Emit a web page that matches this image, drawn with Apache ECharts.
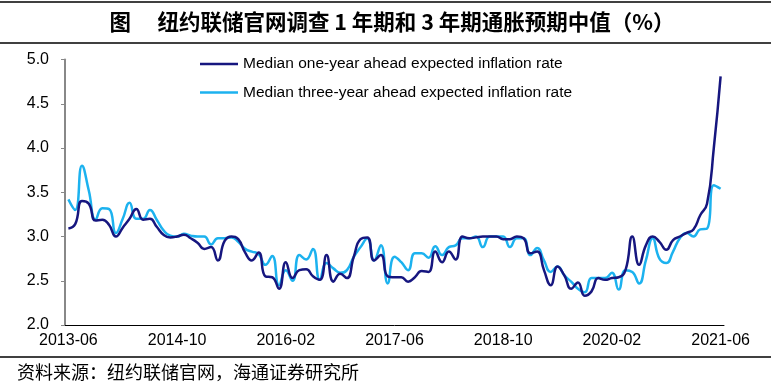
<!DOCTYPE html>
<html>
<head>
<meta charset="utf-8">
<script src="https://cdn.jsdelivr.net/npm/echarts@6/dist/echarts.min.js"></script>
<style>
html,body{margin:0;padding:0;background:#fff;}
#chart{width:771px;height:391px;}
</style>
</head>
<body>
<div id="chart"></div>
<script>
// Monthly categories 2013-06 .. 2021-06
var startYear = 2013, startMonth = 6, monthCount = 97;
var categories = [];
for (var k = 0; k < monthCount; k++) {
  var m = startMonth - 1 + k;
  var y = startYear + Math.floor(m / 12);
  var mm = (m % 12) + 1;
  categories.push(y + '-' + (mm < 10 ? '0' + mm : '' + mm));
}

var oneYear = [
  3.09,3.14,3.40,3.37,3.18,3.19,3.13,3.00,3.10,3.20,
  3.31,3.19,3.20,3.11,3.02,2.99,3.00,3.02,2.98,2.93,
  2.86,2.88,2.73,2.95,3.00,2.97,2.82,2.73,2.82,2.55,
  2.54,2.41,2.71,2.53,2.62,2.63,2.55,2.51,2.79,2.49,
  2.58,2.53,2.77,2.97,2.99,2.73,2.79,2.55,2.54,2.54,
  2.49,2.54,2.61,2.60,2.83,2.71,2.83,2.74,3.00,2.98,
  2.99,3.00,3.00,3.00,2.97,2.97,3.00,2.98,2.81,2.83,
  2.62,2.45,2.66,2.56,2.41,2.48,2.33,2.38,2.53,2.51,
  2.53,2.54,2.62,3.00,2.68,2.90,3.00,2.94,2.85,2.96,
  3.00,3.04,3.08,3.24,3.37,4.00,4.81
];

var threeYear = [
  3.42,3.30,3.80,3.52,3.19,3.32,3.31,3.04,3.20,3.38,
  3.20,3.20,3.30,3.19,3.07,3.01,3.00,3.03,3.01,3.00,
  3.00,2.91,2.98,2.98,2.99,2.94,2.86,2.83,2.80,2.68,
  2.78,2.45,2.62,2.50,2.79,2.74,2.86,2.51,2.70,2.64,
  2.59,2.62,2.77,2.88,2.98,2.73,2.90,2.47,2.77,2.71,
  2.62,2.81,2.81,2.76,2.89,2.79,2.88,2.90,2.98,2.98,
  3.00,2.88,3.00,3.00,3.00,2.88,2.98,2.98,2.79,2.87,
  2.73,2.60,2.66,2.56,2.49,2.41,2.37,2.53,2.53,2.53,
  2.59,2.40,2.62,2.60,2.47,2.73,2.98,2.75,2.70,2.83,
  2.98,3.04,3.00,3.08,3.09,3.58,3.54
];

var seriesNames = ['Median one-year ahead expected inflation rate', 'Median three-year ahead expected inflation rate'];
var titleText = '图\u3000 纽约联储官网调查 1 年期和 3 年期通胀预期中值（%）';
var sourceText = '资料来源：纽约联储官网，海通证券研究所';

var chart = echarts.init(document.getElementById('chart'), null, {renderer: 'canvas'});
var latin = '"Liberation Sans", Arial, sans-serif';
var cjk = '"Noto Sans CJK SC", sans-serif';

chart.setOption({
  animation: false,
  backgroundColor: '#ffffff',
  grid: {left: 65, right: 47, top: 59.5, bottom: 66, containLabel: false},
  legend: {
    orient: 'vertical', left: 200, top: 56, padding: 0,
    itemWidth: 38, itemHeight: 14, itemGap: 12.4,
    textStyle: {fontFamily: latin, fontSize: 15.5, color: '#000'},
    data: seriesNames.map(function (n) { return {name: n, icon: 'path://M0,0 L38,0 L38,2.5 L0,2.5 Z'}; })
  },
  xAxis: {
    type: 'category', data: categories, boundaryGap: true,
    axisLine: {lineStyle: {color: '#000', width: 1}},
    axisTick: {interval: 15, length: 5, lineStyle: {color: '#000'}},
    axisLabel: {interval: 15, margin: 8, fontFamily: latin, fontSize: 16, color: '#000'},
    splitLine: {show: false}
  },
  yAxis: {
    type: 'value', min: 2, max: 5, interval: 0.5,
    axisLine: {show: true, lineStyle: {color: '#888', width: 2}},
    axisTick: {show: true, length: 4, lineStyle: {color: '#888'}},
    axisLabel: {margin: 16, fontFamily: latin, fontSize: 16, color: '#000',
      formatter: function (v) { return v.toFixed(1); }},
    splitLine: {show: false}
  },
  series: [
    {name: seriesNames[0], type: 'line', data: oneYear, smooth: 0.5, symbol: 'none',
     lineStyle: {color: '#16167f', width: 2.5}, itemStyle: {color: '#16167f'}, z: 3},
    {name: seriesNames[1], type: 'line', data: threeYear, smooth: 0.5, symbol: 'none',
     lineStyle: {color: '#1cb2ef', width: 2.5}, itemStyle: {color: '#1cb2ef'}, z: 2}
  ],
  graphic: [
    {type: 'line', shape: {x1: 0, y1: 2, x2: 771, y2: 2}, style: {stroke: '#000', lineWidth: 1.5}},
    {type: 'line', shape: {x1: 0, y1: 43, x2: 771, y2: 43}, style: {stroke: '#000', lineWidth: 1.5}},
    {type: 'line', shape: {x1: 0, y1: 357, x2: 771, y2: 357}, style: {stroke: '#000', lineWidth: 1.5}},
    {type: 'text', x: 392, y: 22, style: {text: titleText, font: 'bold 21.5px ' + cjk, fill: '#000',
      textAlign: 'center', textVerticalAlign: 'middle'}},
    {type: 'text', x: 17, y: 372, style: {text: sourceText, font: '18px ' + cjk, fill: '#000',
      textAlign: 'left', textVerticalAlign: 'middle'}}
  ]
});
</script>
</body>
</html>
